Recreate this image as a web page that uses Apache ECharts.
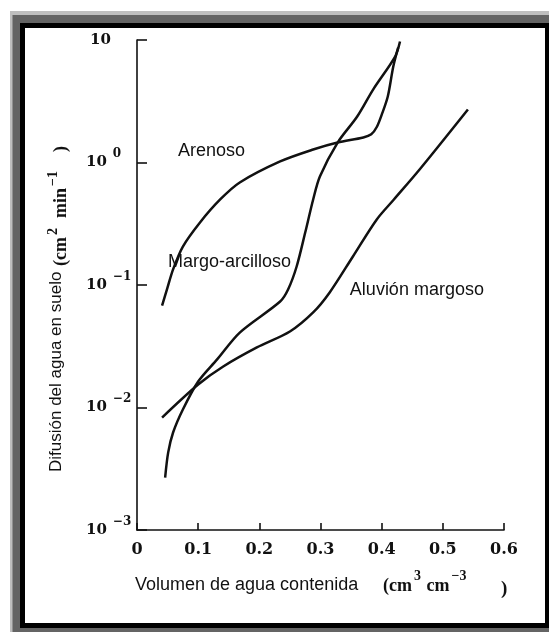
<!DOCTYPE html>
<html>
<head>
<meta charset="utf-8">
<script src="https://cdn.jsdelivr.net/npm/echarts@6/dist/echarts.min.js"></script>
<style>
html,body{margin:0;padding:0;background:#ffffff;}
#chart{width:549px;height:632px;}
</style>
</head>
<body>
<div id="chart"></div>
<script>
// ---- data ----
const xTickLabels = ['0', '0.1', '0.2', '0.3', '0.4', '0.5', '0.6'];
const yTickBase = '10';
const yTickExponents = ['\u22123', '\u22122', '\u22121', '0', '']; // 10^-3 ... 10^1

const seriesNames = ['Arenoso', 'Margo-arcilloso', 'Aluvión margoso'];

const arenosoX = [0.041, 0.049, 0.059, 0.075, 0.103, 0.136, 0.168, 0.234, 0.288, 0.328, 0.370, 0.383, 0.392, 0.400, 0.410, 0.419, 0.427];
const arenosoY = [0.068, 0.092, 0.134, 0.206, 0.324, 0.499, 0.687, 1.02, 1.276, 1.455, 1.60, 1.70, 1.95, 2.45, 3.46, 6.08, 8.69];

const margoX = [0.046, 0.051, 0.059, 0.075, 0.100, 0.131, 0.168, 0.234, 0.247, 0.261, 0.275, 0.288, 0.299, 0.328, 0.360, 0.386, 0.422, 0.430];
const margoY = [0.00268, 0.0043, 0.00625, 0.00963, 0.0163, 0.0247, 0.0409, 0.0733, 0.0919, 0.1416, 0.268, 0.499, 0.769, 1.455, 2.374, 3.94, 7.33, 9.72];

const aluvionX = [0.041, 0.100, 0.141, 0.196, 0.250, 0.288, 0.315, 0.353, 0.392, 0.420, 0.462, 0.541];
const aluvionY = [0.00828, 0.0154, 0.0216, 0.0309, 0.0417, 0.0597, 0.0869, 0.171, 0.343, 0.499, 0.877, 2.71];

// curve label anchors (data space: left edge of text, vertical centre)
const labelX = [0.067, 0.0507, 0.348];
const labelY = [1.25, 0.1527, 0.091];

const xAxisName = 'Volumen de agua contenida';
const yAxisName = 'Difusión del agua en suelo';

// ---- build ----
const zip = (xs, ys) => xs.map((x, i) => [x, ys[i]]);
const curves = [zip(arenosoX, arenosoY), zip(margoX, margoY), zip(aluvionX, aluvionY)];

const INK = '#111111';
const serif = '"DejaVu Serif"';
const uSerif = '"Liberation Serif"';
const sans = '"Liberation Sans", Arial, sans-serif';

const series = curves.map((d, i) => ({
  type: 'line',
  name: seriesNames[i],
  data: d,
  showSymbol: false,
  smooth: 0.3,
  silent: true,
  lineStyle: { color: INK, width: 2.5 },
  markPoint: {
    symbol: 'circle',
    symbolSize: 0,
    silent: true,
    data: [{ coord: [labelX[i], labelY[i]], value: seriesNames[i] }],
    label: {
      show: true,
      position: 'right',
      distance: 0,
      formatter: seriesNames[i],
      color: INK,
      fontFamily: sans,
      fontSize: 18
    }
  }
}));

const chart = echarts.init(document.getElementById('chart'), null, { renderer: 'canvas' });

chart.setOption({
  animation: false,
  backgroundColor: '#ffffff',
  grid: { left: 137, right: 45, top: 40, bottom: 102, containLabel: false },
  xAxis: {
    type: 'value',
    min: 0, max: 0.6, interval: 0.1,
    axisLine: { show: true, onZero: false, lineStyle: { color: INK, width: 1.6 } },
    axisTick: { show: true, inside: true, length: 7, lineStyle: { color: INK, width: 1.6 } },
    splitLine: { show: false },
    axisLabel: {
      margin: 12,
      color: INK,
      fontFamily: serif,
      fontWeight: 'bold',
      fontSize: 16,
      formatter: v => xTickLabels[Math.round(v * 10)]
    }
  },
  yAxis: {
    type: 'log',
    logBase: 10,
    min: 0.001, max: 10,
    axisLine: { show: true, lineStyle: { color: INK, width: 1.6 } },
    axisTick: { show: true, inside: true, length: 10, lineStyle: { color: INK, width: 1.6 } },
    splitLine: { show: false },
    minorTick: { show: false },
    axisLabel: {
      margin: 51,
      align: 'left',
      color: INK,
      formatter: v => {
        const idx = Math.round(Math.log10(v)) + 3;
        const e = yTickExponents[idx];
        if (e === '') return '{t|' + yTickBase + '}';
        return '{b|' + yTickBase + '}{s|' + e + '}';
      },
      rich: {
        b: { fontFamily: serif, fontWeight: 'bold', fontSize: 15, color: INK, lineHeight: 16 },
        t: { fontFamily: serif, fontWeight: 'bold', fontSize: 15, color: INK, lineHeight: 16, padding: [0, 0, 0, 4] },
        s: { fontFamily: serif, fontWeight: 'bold', fontSize: 12, color: INK, lineHeight: 12, padding: [0, 0, 17, 6] }
      }
    }
  },
  graphic: [
    { type: 'rect', z: -30, silent: true, shape: { x: 10, y: 11, width: 539, height: 621 }, style: { fill: '#bfbfbf' } },
    { type: 'rect', z: -29, silent: true, shape: { x: 12.5, y: 15, width: 536.5, height: 617 }, style: { fill: '#646464' } },
    { type: 'rect', z: -28, silent: true, shape: { x: 20, y: 23, width: 529, height: 605 }, style: { fill: '#000000' } },
    { type: 'rect', z: -27, silent: true, shape: { x: 25, y: 28, width: 520, height: 595 }, style: { fill: '#ffffff' } },
    {
      type: 'text', z: 20, silent: true, x: 135, y: 585,
      style: { text: xAxisName, fill: INK, fontFamily: sans, fontSize: 18, align: 'left', verticalAlign: 'middle' }
    },
    {
      type: 'text', z: 20, silent: true, x: 383, y: 586,
      style: {
        text: '{p|(cm}{s|3}{p| cm}{s|\u22123}', align: 'left', verticalAlign: 'middle', fill: INK,
        rich: {
          p: { fontFamily: uSerif, fontWeight: 'bold', fontSize: 18, fill: INK, lineHeight: 18 },
          s: { fontFamily: uSerif, fontWeight: 'bold', fontSize: 14, fill: INK, lineHeight: 14, padding: [0, 1, 20, 2] }
        }
      }
    },
    {
      type: 'text', z: 20, silent: true, x: 501, y: 589,
      style: { text: ')', fill: INK, fontFamily: uSerif, fontWeight: 'bold', fontSize: 19, align: 'left', verticalAlign: 'middle' }
    },
    {
      type: 'text', z: 20, silent: true, x: 56, y: 472, rotation: Math.PI / 2,
      style: { text: yAxisName, fill: INK, fontFamily: sans, fontSize: 17, align: 'left', verticalAlign: 'middle' }
    },
    {
      type: 'text', z: 20, silent: true, x: 61, y: 266, rotation: Math.PI / 2,
      style: {
        text: '{p|(cm}{s|2}{p|  min}{s|\u22121}{p|    )}', align: 'left', verticalAlign: 'middle', fill: INK,
        rich: {
          p: { fontFamily: uSerif, fontWeight: 'bold', fontSize: 18, fill: INK, lineHeight: 18 },
          s: { fontFamily: uSerif, fontWeight: 'bold', fontSize: 14, fill: INK, lineHeight: 14, padding: [0, 1, 16, 2] }
        }
      }
    }
  ],
  series: series
});
</script>
</body>
</html>
